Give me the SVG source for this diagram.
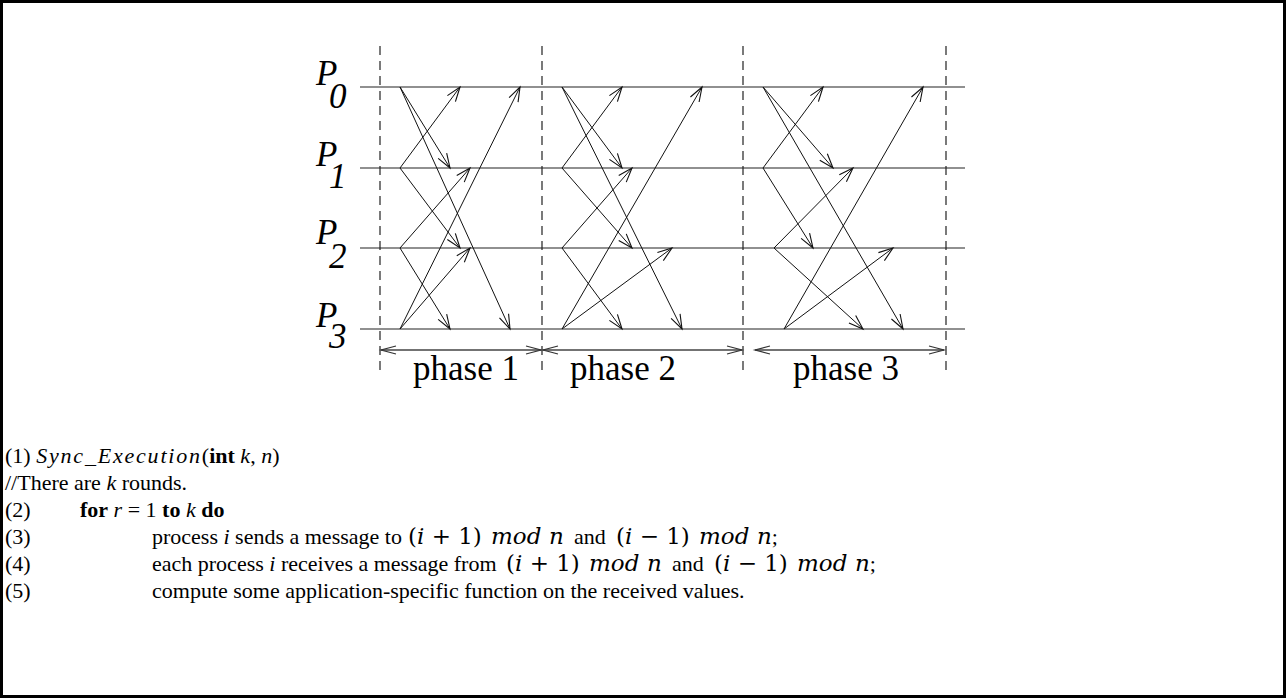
<svg xmlns="http://www.w3.org/2000/svg" width="1286" height="698" viewBox="0 0 1286 698">
<style>
.proc{stroke:#222;stroke-width:1.2;fill:none}
.dash{stroke:#222;stroke-width:1.2;stroke-dasharray:9,6;fill:none}
.msg{stroke:#111;stroke-width:1;fill:none;marker-end:url(#ah)}
.ph{stroke:#444;stroke-width:1.4;fill:none;marker-start:url(#pa);marker-end:url(#pa)}
.lbl{font-family:"Liberation Serif",serif;font-style:italic;font-size:35px;fill:#000}
.phl{font-family:"Liberation Serif",serif;font-size:35px;fill:#000}
.code{font-family:"Liberation Serif",serif;font-size:22px;fill:#000}
.it{font-style:italic}
.b{font-weight:bold}
.m{font-family:"DejaVu Serif",serif;font-size:23px}
.mi{font-family:"DejaVu Serif",serif;font-size:23px;font-style:italic}
</style>
<defs>
<marker id="ah" markerUnits="userSpaceOnUse" orient="auto" refX="0" refY="0" markerWidth="20" markerHeight="20" viewBox="-16 -8 18 16" overflow="visible">
<path d="M-13,-4.5 L0,0 L-13,4.5" fill="none" stroke="#111" stroke-width="1"/>
</marker>
<marker id="pa" markerUnits="userSpaceOnUse" orient="auto-start-reverse" refX="0" refY="0" markerWidth="20" markerHeight="20" viewBox="-18 -8 20 16" overflow="visible">
<path d="M-15,-4 L0,0 L-15,4" fill="none" stroke="#333" stroke-width="1.2"/>
</marker>
</defs>
<rect x="1.5" y="1.5" width="1283" height="695" fill="#fff" stroke="#000" stroke-width="3"/>

<g id="timeline">
<line class="proc" x1="360" y1="87" x2="965" y2="87"/>
<line class="proc" x1="360" y1="168" x2="965" y2="168"/>
<line class="proc" x1="360" y1="248" x2="965" y2="248"/>
<line class="proc" x1="360" y1="329" x2="965" y2="329"/>
<line class="dash" x1="380" y1="46" x2="380" y2="370"/>
<line class="dash" x1="542" y1="46" x2="542" y2="370"/>
<line class="dash" x1="743" y1="46" x2="743" y2="370"/>
<line class="dash" x1="946" y1="46" x2="946" y2="370"/>
</g>

<g id="P0"><text class="lbl" x="316" y="85">P</text><text class="lbl" x="329" y="108">0</text></g>
<g id="P1"><text class="lbl" x="316" y="166">P</text><text class="lbl" x="329" y="188">1</text></g>
<g id="P2"><text class="lbl" x="316" y="244">P</text><text class="lbl" x="329" y="268">2</text></g>
<g id="P3"><text class="lbl" x="316" y="327">P</text><text class="lbl" x="329" y="348">3</text></g>

<g id="connectors">
<line class="msg" x1="400" y1="87" x2="450" y2="168"/>
<line class="msg" x1="400" y1="87" x2="510" y2="329"/>
<line class="msg" x1="400" y1="168" x2="460" y2="87"/>
<line class="msg" x1="400" y1="168" x2="460" y2="248"/>
<line class="msg" x1="400" y1="248" x2="470" y2="168"/>
<line class="msg" x1="400" y1="248" x2="450" y2="329"/>
<line class="msg" x1="400" y1="329" x2="470" y2="248"/>
<line class="msg" x1="400" y1="329" x2="520" y2="87"/>

<line class="msg" x1="562" y1="87" x2="622" y2="168"/>
<line class="msg" x1="562" y1="87" x2="682" y2="329"/>
<line class="msg" x1="562" y1="168" x2="622" y2="87"/>
<line class="msg" x1="562" y1="168" x2="632" y2="248"/>
<line class="msg" x1="562" y1="248" x2="632" y2="168"/>
<line class="msg" x1="562" y1="248" x2="622" y2="329"/>
<line class="msg" x1="562" y1="329" x2="672" y2="248"/>
<line class="msg" x1="562" y1="329" x2="702" y2="87"/>

<line class="msg" x1="763" y1="87" x2="833" y2="168"/>
<line class="msg" x1="763" y1="87" x2="903" y2="329"/>
<line class="msg" x1="763" y1="168" x2="823" y2="87"/>
<line class="msg" x1="763" y1="168" x2="813" y2="248"/>
<line class="msg" x1="774" y1="248" x2="853" y2="168"/>
<line class="msg" x1="774" y1="248" x2="863" y2="329"/>
<line class="msg" x1="784" y1="329" x2="893" y2="248"/>
<line class="msg" x1="784" y1="329" x2="923" y2="87"/>

<line class="ph" x1="381" y1="350" x2="541" y2="350"/>
<line class="ph" x1="543" y1="350" x2="742" y2="350"/>
<line class="ph" x1="755" y1="350" x2="944" y2="350"/>
</g>

<g id="phases">
<text class="phl" x="413" y="380">phase 1</text>
<text class="phl" x="570" y="380">phase 2</text>
<text class="phl" x="793" y="380">phase 3</text>
</g>

<g id="code">
<text class="code" x="5" y="463">(1) <tspan class="it" letter-spacing="1.8">Sync_Execution</tspan>(<tspan class="b">int</tspan> <tspan class="it">k</tspan>, <tspan class="it">n</tspan>)</text>
<text class="code" x="5" y="490">//There are <tspan class="it">k</tspan> rounds.</text>
<text class="code" x="5" y="517">(2)</text>
<text class="code" x="80" y="517"><tspan class="b">for</tspan> <tspan class="it">r</tspan> = 1 <tspan class="b">to</tspan> <tspan class="it">k</tspan> <tspan class="b">do</tspan></text>
<text class="code" x="5" y="544">(3)</text>
<text class="code" x="152" y="544">process <tspan class="it">i</tspan> sends a message to <tspan class="m" x="408">(<tspan class="it">i</tspan> + 1)</tspan><tspan class="mi" x="491">mod</tspan><tspan class="mi" x="549">n</tspan><tspan x="574">and</tspan><tspan class="m" x="616">(<tspan class="it">i</tspan> − 1)</tspan><tspan class="mi" x="699">mod</tspan><tspan class="mi" x="757">n</tspan>;</text>
<text class="code" x="5" y="571">(4)</text>
<text class="code" x="152" y="571">each process <tspan class="it">i</tspan> receives a message from <tspan class="m" x="506">(<tspan class="it">i</tspan> + 1)</tspan><tspan class="mi" x="589">mod</tspan><tspan class="mi" x="647">n</tspan><tspan x="672">and</tspan><tspan class="m" x="714">(<tspan class="it">i</tspan> − 1)</tspan><tspan class="mi" x="797">mod</tspan><tspan class="mi" x="855">n</tspan>;</text>
<text class="code" x="5" y="598">(5)</text>
<text class="code" x="152" y="598">compute some application-specific function on the received values.</text>
</g>
</svg>
